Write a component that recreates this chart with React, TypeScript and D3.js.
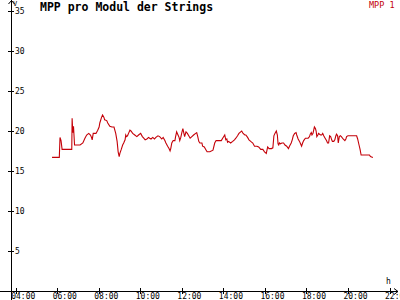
import React from "react";
import * as d3 from "d3";

// minutes since midnight
const minutes = [
  345, 366, 368, 371, 374, 402, 403, 405, 407, 410, 426, 434, 440, 445, 451, 456, 459, 461, 464, 472,
  477, 481, 483, 488, 491, 495, 497, 503, 506, 512, 518, 524, 529, 533, 536, 539, 541, 545, 549, 552,
  556, 558, 560, 563, 566, 570, 573, 578, 584, 590, 595, 601, 606, 610, 614, 619, 624, 627, 631, 636,
  641, 645, 651, 656, 662, 666, 671, 674, 679, 683, 686, 688, 691, 695, 700, 702, 705, 708, 712, 714,
  717, 720, 723, 726, 728, 732, 736, 740, 744, 749, 754, 760, 763, 766, 769, 772, 778, 780, 785, 789,
  793, 801, 810, 815, 819, 824, 834, 838, 844, 847, 850, 852, 855, 861, 867, 872, 876, 881, 885, 890,
  893, 897, 902, 905, 910, 914, 919, 925, 930, 937, 942, 948, 954, 959, 964, 968, 972, 979, 983, 986,
  989, 993, 996, 998, 1000, 1002, 1005, 1009, 1014, 1018, 1023, 1028, 1031, 1036, 1039, 1042, 1046, 1050, 1052, 1056,
  1060, 1063, 1066, 1069, 1072, 1077, 1080, 1085, 1089, 1091, 1094, 1096, 1099, 1101, 1103, 1106, 1108, 1110, 1113, 1115,
  1118, 1121, 1124, 1127, 1130, 1134, 1138, 1141, 1144, 1147, 1150, 1153, 1155, 1159, 1162, 1165, 1167, 1170, 1172, 1175,
  1178, 1181, 1186, 1191, 1194, 1196, 1200, 1225, 1228, 1232, 1235, 1238, 1262, 1265, 1272,
];

const mpp1 = [
  16.7, 16.7, 19.2, 18.8, 17.7, 17.7, 21.6, 19.8, 20.6, 18.25, 18.25, 18.5, 19.1, 19.5, 19.7, 19.5, 19.2, 18.9, 19.7, 19.7,
  20.1, 20.5, 21.0, 21.7, 22.0, 21.7, 21.4, 21.3, 21.0, 20.6, 20.5, 20.5, 19.7, 18.7, 17.4, 16.8, 17.2, 17.7, 18.25, 18.5,
  18.9, 19.5, 19.3, 19.4, 19.7, 20.1, 20.0, 19.7, 19.5, 19.3, 19.5, 19.7, 19.3, 19.1, 18.9, 19.0, 19.2, 19.1, 19.0, 19.2,
  19.0, 19.2, 19.4, 19.3, 19.0, 19.2, 18.8, 18.5, 18.1, 17.8, 17.5, 17.8, 18.5, 18.8, 18.8, 19.3, 19.9, 19.6, 19.2, 18.8,
  19.2, 19.8, 20.3, 19.7, 19.3, 19.9, 19.7, 19.4, 19.1, 19.3, 19.5, 19.7, 19.8, 19.3, 18.7, 18.5, 18.5, 18.1, 18.0, 17.7,
  17.4, 17.4, 17.6, 18.5, 18.8, 18.8, 18.8, 19.1, 19.5, 18.9, 19.0, 18.6, 18.7, 18.5, 18.7, 18.9, 19.1, 19.4, 19.7, 19.9,
  20.0, 19.7, 19.5, 19.5, 19.2, 18.9, 18.7, 18.5, 18.1, 18.1, 18.0, 17.7, 17.7, 17.4, 17.2, 18.0, 17.8, 17.8, 17.9, 19.4,
  19.7, 20.0, 19.5, 18.4, 18.25, 18.5, 18.4, 18.5, 18.5, 18.25, 18.1, 17.8, 18.1, 18.5, 18.9, 19.4, 19.7, 19.8, 19.5, 19.0,
  18.7, 18.4, 18.1, 18.5, 18.8, 19.1, 19.1, 19.1, 19.3, 19.6, 19.8, 19.5, 19.7, 20.1, 20.5, 20.3, 20.0, 19.3, 19.5, 19.7,
  19.6, 19.5, 19.5, 19.7, 19.4, 19.1, 18.8, 18.5, 18.5, 19.4, 19.3, 18.9, 18.7, 18.7, 18.9, 19.4, 19.6, 19.4, 18.5, 19.3,
  19.4, 19.3, 19.0, 18.8, 19.0, 19.3, 19.4, 19.4, 19.0, 18.25, 17.7, 17.0, 17.0, 16.8, 16.7,
];

const yTicks = [5, 10, 15, 20, 25, 30, 35];
const xTickLabels = ["04:00", "06:00", "08:00", "10:00", "12:00", "14:00", "16:00", "18:00", "20:00", "22:00"];
const xTickMinutes = [240, 360, 480, 600, 720, 840, 960, 1080, 1200, 1320];

const title = "MPP pro Modul der Strings";
const seriesName = "MPP 1";
const RED = "#c40008";
const MONO = "'DejaVu Sans Mono', 'Liberation Mono', monospace";

export default function App() {
  const W = 400;
  const H = 300;
  const x = d3.scaleLinear().domain([240, 1320]).range([15.7, 389.5]);
  const y = d3.scaleLinear().domain([0, 35]).range([291, 11]);
  const pts: [number, number][] = minutes.map((m, i) => [m, mpp1[i]]);
  const line = d3
    .line<[number, number]>()
    .x((d) => x(d[0]))
    .y((d) => y(d[1]));

  const axisX = 11.5;
  const axisY = 291.5;

  return (
    <svg
      width={W}
      height={H}
      style={{ position: "absolute", left: 0, top: 0, background: "#fff" }}
      fontFamily={MONO}
    >
      <rect x={0} y={0} width={W} height={H} fill="#fff" />
      {/* y axis */}
      <line x1={axisX} x2={axisX} y1={0} y2={300} stroke="#000" strokeWidth={1} shapeRendering="crispEdges" />
      <path d={`M${axisX - 3},4 L${axisX},0.5 L${axisX + 3},4`} fill="none" stroke="#000" strokeWidth={1} />
      <text x={13} y={6} fontSize={7} fill="#000">V</text>
      {yTicks.map((t) => (
        <g key={t}>
          <line x1={8} x2={14} y1={Math.round(y(t)) + 0.5} y2={Math.round(y(t)) + 0.5} stroke="#000" shapeRendering="crispEdges" />
          <text x={15} y={y(t) + 3} fontSize={8} fill="#000">{t}</text>
        </g>
      ))}
      {/* x axis */}
      <line x1={0} x2={398} y1={axisY} y2={axisY} stroke="#000" strokeWidth={1} shapeRendering="crispEdges" />
      <path d={`M394,${axisY - 3} L398,${axisY} L394,${axisY + 3}`} fill="none" stroke="#000" strokeWidth={1} />
      <text x={386} y={284} fontSize={8} fill="#000">h</text>
      {xTickMinutes.map((m, i) => (
        <g key={m}>
          <line x1={Math.round(x(m)) + 0.5} x2={Math.round(x(m)) + 0.5} y1={288} y2={294} stroke="#000" shapeRendering="crispEdges" />
          <text x={x(m) - 4.5} y={299} fontSize={8} fill="#000">{xTickLabels[i]}</text>
        </g>
      ))}
      {/* series */}
      <path d={line(pts) || ""} fill="none" stroke={RED} strokeWidth={1.1} />
      {/* title & legend */}
      <text x={40} y={11} fontSize={11.5} fontWeight="bold" fill="#000">{title}</text>
      <text x={369} y={7.5} fontSize={8.5} fill={RED}>{seriesName}</text>
    </svg>
  );
}
